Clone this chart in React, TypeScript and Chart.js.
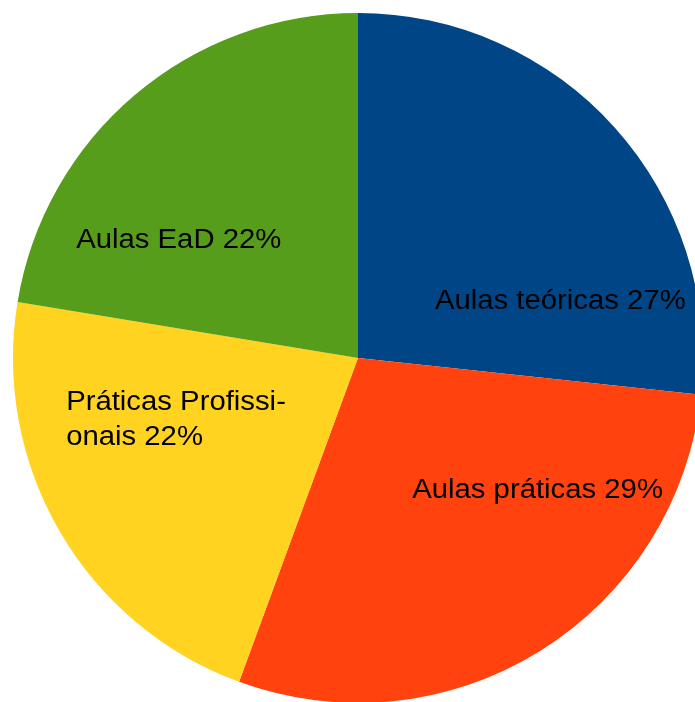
import React, { useEffect, useRef } from "react";
import { Chart, registerables } from "chart.js";

Chart.register(...registerables);

const categories = ["Aulas teóricas", "Aulas práticas", "Práticas Profissionais", "Aulas EaD"];
const values = [26.7, 28.9, 22.0, 22.4];
// label text lines (name part); the percentage is appended from the values
const labelLines = [
  ["Aulas teóricas"],
  ["Aulas práticas"],
  ["Práticas Profissi-", "onais"],
  ["Aulas EaD"],
];
const colors = ["#004586", "#ff420e", "#ffd320", "#579d1c"];
// label anchors (left edge, first-line middle) as fractions of the radius from the centre
const labelAnchors = [
  [0.223, -0.165],
  [0.157, 0.385],
  [-0.846, 0.13],
  [-0.817, -0.34],
];

const labelPlugin = {
  id: "sliceLabels",
  afterDatasetsDraw(chart: any) {
    const ctx = chart.ctx;
    const meta = chart.getDatasetMeta(0);
    const total = values.reduce((a, b) => a + b, 0);
    const sx = 1.085;
    ctx.save();
    ctx.font = '27px "Liberation Sans", Arial, sans-serif';
    ctx.fillStyle = "#000";
    ctx.textAlign = "left";
    ctx.textBaseline = "middle";
    meta.data.forEach((arc: any, i: number) => {
      const R = arc.outerRadius;
      const x = arc.x + labelAnchors[i][0] * R;
      const y = arc.y + labelAnchors[i][1] * R;
      const pct = Math.round((values[i] / total) * 100) + "%";
      const lines = labelLines[i].slice();
      lines[lines.length - 1] = lines[lines.length - 1] + " " + pct;
      lines.forEach((line, j) => {
        ctx.save();
        ctx.translate(x, y + j * 35);
        ctx.scale(sx, 1);
        ctx.fillText(line, 0, 0);
        ctx.restore();
      });
    });
    ctx.restore();
  },
};

export default function App() {
  const ref = useRef<HTMLCanvasElement>(null);
  useEffect(() => {
    if (!ref.current) return;
    const chart = new Chart(ref.current, {
      type: "pie",
      data: {
        labels: categories,
        datasets: [
          {
            data: values,
            backgroundColor: colors,
            borderWidth: 0,
          },
        ],
      },
      options: {
        responsive: false,
        animation: false,
        layout: { padding: 13 },
        plugins: {
          legend: { display: false },
          tooltip: { enabled: false },
        },
      },
      plugins: [labelPlugin],
    });
    return () => chart.destroy();
  }, []);
  return (
    <div
      style={{
        position: "fixed",
        left: 0,
        top: 0,
        width: 695,
        height: 702,
        overflow: "hidden",
        background: "#fff",
      }}
    >
      <canvas ref={ref} width={716} height={716} style={{ display: "block", width: 716, height: 716 }} />
    </div>
  );
}
